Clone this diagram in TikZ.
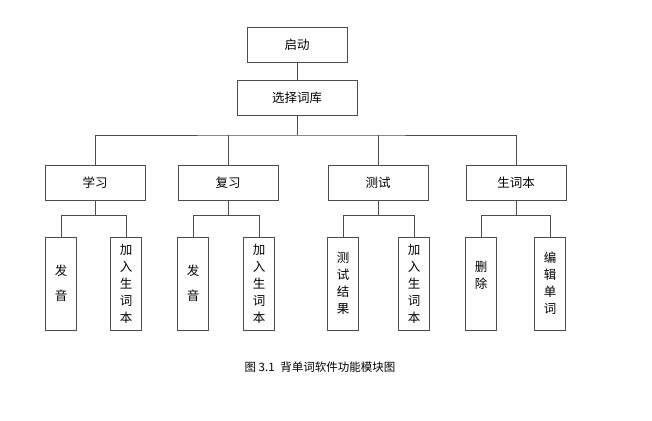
\documentclass[tikz,border=0pt]{standalone}
\usepackage{fontspec}
\setmainfont{Noto Sans CJK SC}
\usetikzlibrary{positioning}

\begin{document}
\begin{tikzpicture}[x=1pt, y=-1pt,
  every node/.style={font=\fontsize{12.5}{17}\selectfont},
  wide/.style={draw=black!70, minimum width=100pt, minimum height=35pt, inner sep=0pt},
  tall/.style={draw=black!70, minimum width=31pt, minimum height=93pt, inner sep=0pt, align=center},
  link/.style={draw=black!70, line width=0.5pt}]

  \useasboundingbox (0,0) rectangle (652,420);

  % top
  \node[wide] (start) at (297,44.5) {启动};
  \node[wide, minimum width=120pt] (lib) at (297,97.5) {选择词库};
  \draw[link] (start) -- (lib);

  % modules
  \node[wide] (learn) at (95,182.5) {学习};
  \node[wide] (review) at (228,182.5) {复习};
  \node[wide] (test) at (378,182.5) {测试};
  \node[wide] (book) at (516,182.5) {生词本};

  \coordinate (bus) at (297,135);
  \draw[link] (lib.south) -- (bus);
  \draw[link] (learn.north) |- (bus) -| (book.north);
  \draw[link] (review.north) -- (review.north |- bus);
  \draw[link] (test.north) -- (test.north |- bus);

  % leaves
  \node[tall] (learn-a) at (61,283.5) {发\\[8pt]音};
  \node[tall] (learn-b) at (126,283.5) {加\\入\\生\\词\\本};
  \node[tall] (review-a) at (193,283.5) {发\\[8pt]音};
  \node[tall] (review-b) at (259,283.5) {加\\入\\生\\词\\本};
  \node[tall] (test-a) at (343,283.5) {测\\试\\结\\果};
  \node[tall] (test-b) at (414,283.5) {加\\入\\生\\词\\本};
  \node[tall] (book-a) at (481,283.5) {删\\除\\\phantom{除}};
  \node[tall] (book-b) at (550,283.5) {编\\辑\\单\\词};

  \foreach \m in {learn, review, test, book} {
    \draw[link] (\m.south) -- ++(0,15) coordinate (\m-j);
    \draw[link] (\m-a.north) |- (\m-j) -| (\m-b.north);
  }

  % caption
  \node[font=\fontsize{11.5}{14}\selectfont] (caption) at (320,367) {图 3.1\enspace 背单词软件功能模块图};

\end{tikzpicture}
\end{document}
